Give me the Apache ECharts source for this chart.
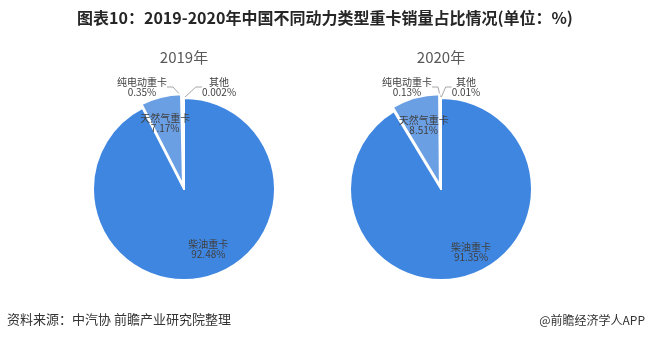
<!DOCTYPE html>
<html>
<head>
<meta charset="utf-8">
<script src="https://cdn.jsdelivr.net/npm/echarts@6/dist/echarts.min.js"></script>
<style>
html,body{margin:0;padding:0;background:#fff;}
#c{width:650px;height:341px;}
</style>
</head>
<body>
<div id="c"></div>
<script>
const titleText = '图表10：2019-2020年中国不同动力类型重卡销量占比情况(单位：%)';
const sourceText = '资料来源：中汽协 前瞻产业研究院整理';
const brandText = '@前瞻经济学人APP';
const categories = ['柴油重卡', '天然气重卡', '纯电动重卡', '其他'];
const years = ['2019年', '2020年'];
const values2019 = [92.48, 7.17, 0.35, 0.002];
const values2020 = [91.35, 8.51, 0.13, 0.01];

const colors = ['#3f86e0', '#6b9fe4', '#3f86e0', '#3f86e0'];
const FONT = '"Noto Sans CJK SC", "Noto Sans", sans-serif';
const RADIUS = 91;

// label placement tweaks per pie
const insideShift = [
  {0: [13, 13], 1: [-6, -15]},
  {0: [17, 16], 1: [-3, -13]}
];
// horizontal offset of outside label block centres from pie centre: [纯电动, 其他]
const outsideShift = [[-42, 35], [-34, 25]];

function makeSeries(idx, vals, center) {
  return {
    type: 'pie',
    center: center,
    radius: RADIUS,
    startAngle: 90,
    clockwise: true,
    selectedMode: 'single',
    selectedOffset: 4,
    avoidLabelOverlap: false,
    itemStyle: {borderColor: '#ffffff', borderWidth: 2},
    label: {
      formatter: function (p) { return p.name + '\n' + p.value + '%'; },
      fontSize: 10, color: '#404040', fontFamily: FONT, lineHeight: 10
    },
    labelLine: {lineStyle: {color: '#a6a6a6', width: 1}, length: 8, length2: 6},
    labelLayout: function (p) {
      const s = insideShift[idx][p.dataIndex];
      if (s) return {dx: s[0], dy: s[1]};
      if (p.dataIndex === 2 || p.dataIndex === 3) {
        const off = outsideShift[idx][p.dataIndex - 2];
        return {x: center[0] + off, y: center[1] - RADIUS - 1, align: 'center', verticalAlign: 'bottom'};
      }
      return {};
    },
    data: categories.map(function (name, i) {
      const d = {name: name, value: vals[i], itemStyle: {color: colors[i]}};
      if (i === 1) d.selected = true;
      if (i < 2) {
        d.label = {position: 'inside'};
        d.labelLine = {show: false};
      } else {
        d.label = {position: 'outside'};
      }
      return d;
    })
  };
}

const chart = echarts.init(document.getElementById('c'), null, {renderer: 'canvas'});
chart.setOption({
  backgroundColor: '#ffffff',
  animation: false,
  title: [
    {text: titleText, left: 'center', top: 10, padding: 0,
     textStyle: {fontSize: 16, fontWeight: 'bold', color: '#262626', fontFamily: FONT}},
    {text: years[0], left: 184, top: 50, padding: 0, textAlign: 'center',
     textStyle: {fontSize: 15, fontWeight: 'normal', color: '#595959', fontFamily: FONT}},
    {text: years[1], left: 441, top: 50, padding: 0, textAlign: 'center',
     textStyle: {fontSize: 15, fontWeight: 'normal', color: '#595959', fontFamily: FONT}},
    {text: sourceText, left: 7, top: 313, padding: 0,
     textStyle: {fontSize: 13, fontWeight: 'normal', color: '#333333', fontFamily: FONT}},
    {text: brandText, right: 5, top: 314, padding: 0,
     textStyle: {fontSize: 12, fontWeight: 'normal', color: '#333333', fontFamily: FONT}}
  ],
  series: [
    makeSeries(0, values2019, [184, 189]),
    makeSeries(1, values2020, [441, 189])
  ]
});
</script>
</body>
</html>
